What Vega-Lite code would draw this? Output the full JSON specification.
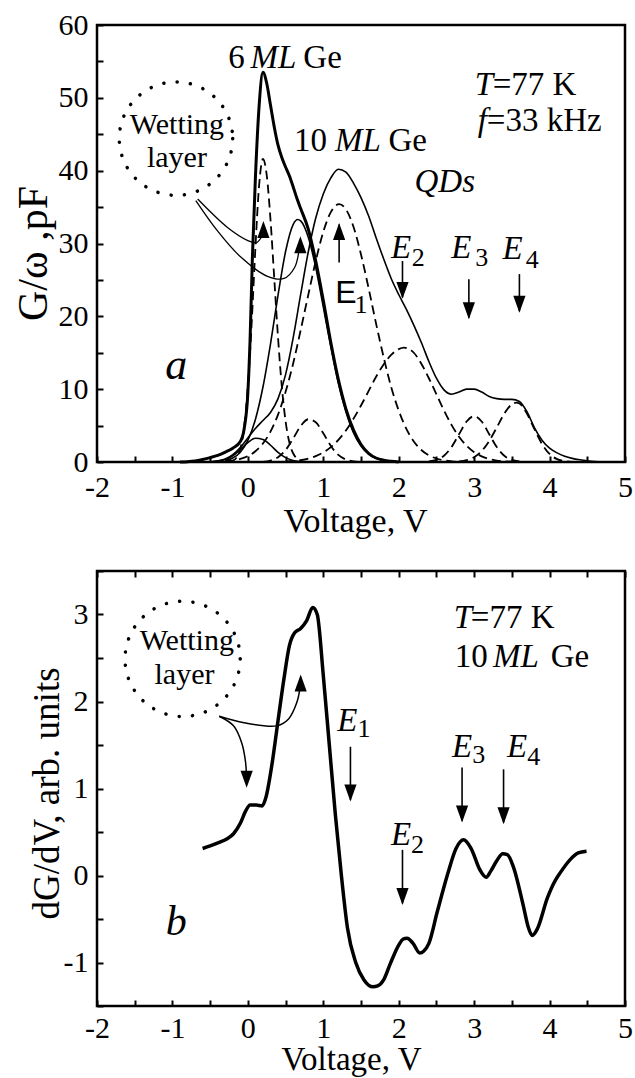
{
  "$schema": "https://vega.github.io/schema/vega-lite/v6.json",
  "padding": {"left": 10, "top": 8, "right": 0, "bottom": 0},
  "spacing": 14,
  "config": {
    "font": "Liberation Serif",
    "view": {"stroke": "black", "strokeWidth": 2.5},
    "axis": {
      "domain": false, "grid": false, "ticks": true,
      "tickColor": "black", "tickWidth": 2, "tickSize": -6,
      "labelFont": "Liberation Serif", "labelFontSize": 30, "labelColor": "black",
      "labelFlush": false, "labelOverlap": false,
      "titleFont": "Liberation Serif", "titleFontWeight": "normal", "titleColor": "black"
    }
  },
  "vconcat": [
    {
      "width": 528, "height": 437,
      "encoding": {
        "x": {"field": "x", "type": "quantitative",
              "scale": {"domain": [-2, 5], "nice": false, "zero": false},
              "axis": {"title": "Voltage, V", "values": [-2,-1.5,-1,-0.5,0,0.5,1,1.5,2,2.5,3,3.5,4,4.5,5],
                       "labelExpr": "datum.value % 1 === 0 ? toString(datum.value) : ''",
                       "labelPadding": 16, "titleFontSize": 34, "titleX": 258, "titleY": 59, "titleBaseline": "middle"}},
        "y": {"field": "y", "type": "quantitative",
              "scale": {"domain": [0, 60], "nice": false},
              "axis": {"title": "G/ω ,pF", "values": [0,5,10,15,20,25,30,35,40,45,50,55,60],
                       "labelExpr": "datum.value % 10 === 0 ? toString(datum.value) : ''",
                       "labelPadding": 15, "titleFontSize": 42, "titleAngle": -90, "titleX": -64, "titleY": 228,
                       "titleBaseline": "middle", "titleAlign": "center"}}
      },
      "layer": [
        {
          "data": {"values": [
            {"c": "A", "x": -0.25, "y": 0}, {"c": "A", "x": -0.2, "y": 0.16}, {"c": "A", "x": -0.15, "y": 0.6}, {"c": "A", "x": -0.1, "y": 1.8},
            {"c": "A", "x": -0.05, "y": 4.7}, {"c": "A", "x": 0, "y": 10.4}, {"c": "A", "x": 0.05, "y": 19}, {"c": "A", "x": 0.1, "y": 29.4},
            {"c": "A", "x": 0.15, "y": 38.1}, {"c": "A", "x": 0.2, "y": 41.6}, {"c": "A", "x": 0.25, "y": 39.4}, {"c": "A", "x": 0.3, "y": 33.3},
            {"c": "A", "x": 0.35, "y": 25.2}, {"c": "A", "x": 0.4, "y": 17.1}, {"c": "A", "x": 0.45, "y": 10.4}, {"c": "A", "x": 0.5, "y": 5.6},
            {"c": "A", "x": 0.55, "y": 2.7}, {"c": "A", "x": 0.6, "y": 1.2}, {"c": "A", "x": 0.7, "y": 0.16}, {"c": "A", "x": 0.8, "y": 0},
            {"c": "D", "x": 0.2, "y": 0}, {"c": "D", "x": 0.3, "y": 0.2}, {"c": "D", "x": 0.4, "y": 0.65}, {"c": "D", "x": 0.5, "y": 1.64},
            {"c": "D", "x": 0.6, "y": 3.22}, {"c": "D", "x": 0.7, "y": 4.93}, {"c": "D", "x": 0.8, "y": 5.87}, {"c": "D", "x": 0.9, "y": 5.45},
            {"c": "D", "x": 1.0, "y": 3.94}, {"c": "D", "x": 1.1, "y": 2.21}, {"c": "D", "x": 1.2, "y": 0.97}, {"c": "D", "x": 1.3, "y": 0.33},
            {"c": "D", "x": 1.4, "y": 0.09}, {"c": "D", "x": 1.5, "y": 0},
            {"c": "E1", "x": -0.3, "y": 0.1}, {"c": "E1", "x": -0.2, "y": 0.2}, {"c": "E1", "x": -0.1, "y": 0.42}, {"c": "E1", "x": 0, "y": 0.81},
            {"c": "E1", "x": 0.1, "y": 1.47}, {"c": "E1", "x": 0.2, "y": 2.54}, {"c": "E1", "x": 0.3, "y": 4.17}, {"c": "E1", "x": 0.4, "y": 6.5},
            {"c": "E1", "x": 0.5, "y": 9.63}, {"c": "E1", "x": 0.6, "y": 13.5}, {"c": "E1", "x": 0.7, "y": 18.1}, {"c": "E1", "x": 0.8, "y": 22.9},
            {"c": "E1", "x": 0.9, "y": 27.6}, {"c": "E1", "x": 1.0, "y": 31.6}, {"c": "E1", "x": 1.1, "y": 34.3}, {"c": "E1", "x": 1.21, "y": 35.4},
            {"c": "E1", "x": 1.3, "y": 34.7}, {"c": "E1", "x": 1.4, "y": 32.3}, {"c": "E1", "x": 1.5, "y": 28.5}, {"c": "E1", "x": 1.6, "y": 23.9},
            {"c": "E1", "x": 1.7, "y": 19.0}, {"c": "E1", "x": 1.8, "y": 14.4}, {"c": "E1", "x": 1.9, "y": 10.3}, {"c": "E1", "x": 2.0, "y": 7.06},
            {"c": "E1", "x": 2.1, "y": 4.58}, {"c": "E1", "x": 2.2, "y": 2.82}, {"c": "E1", "x": 2.3, "y": 1.65}, {"c": "E1", "x": 2.4, "y": 0.91},
            {"c": "E1", "x": 2.5, "y": 0.48}, {"c": "E1", "x": 2.6, "y": 0.24}, {"c": "E1", "x": 2.7, "y": 0.1}, {"c": "E1", "x": 2.8, "y": 0},
            {"c": "E2", "x": 0.5, "y": 0.07}, {"c": "E2", "x": 0.6, "y": 0.14}, {"c": "E2", "x": 0.7, "y": 0.27}, {"c": "E2", "x": 0.8, "y": 0.47},
            {"c": "E2", "x": 0.9, "y": 0.81}, {"c": "E2", "x": 1.0, "y": 1.31}, {"c": "E2", "x": 1.1, "y": 2.04}, {"c": "E2", "x": 1.2, "y": 3.04},
            {"c": "E2", "x": 1.3, "y": 4.33}, {"c": "E2", "x": 1.4, "y": 5.93}, {"c": "E2", "x": 1.5, "y": 7.76}, {"c": "E2", "x": 1.6, "y": 9.72},
            {"c": "E2", "x": 1.7, "y": 11.7}, {"c": "E2", "x": 1.8, "y": 13.4}, {"c": "E2", "x": 1.9, "y": 14.7}, {"c": "E2", "x": 2.0, "y": 15.5},
            {"c": "E2", "x": 2.07, "y": 15.7}, {"c": "E2", "x": 2.2, "y": 15.0}, {"c": "E2", "x": 2.3, "y": 13.5}, {"c": "E2", "x": 2.4, "y": 11.5},
            {"c": "E2", "x": 2.5, "y": 9.3}, {"c": "E2", "x": 2.6, "y": 7.08}, {"c": "E2", "x": 2.7, "y": 5.1}, {"c": "E2", "x": 2.8, "y": 3.47},
            {"c": "E2", "x": 2.9, "y": 2.23}, {"c": "E2", "x": 3.0, "y": 1.35}, {"c": "E2", "x": 3.1, "y": 0.78}, {"c": "E2", "x": 3.2, "y": 0.42},
            {"c": "E2", "x": 3.3, "y": 0.2}, {"c": "E2", "x": 3.4, "y": 0.1}, {"c": "E2", "x": 3.5, "y": 0.04},
            {"c": "E3", "x": 2.4, "y": 0.07}, {"c": "E3", "x": 2.5, "y": 0.28}, {"c": "E3", "x": 2.6, "y": 0.85}, {"c": "E3", "x": 2.7, "y": 2.05},
            {"c": "E3", "x": 2.8, "y": 3.82}, {"c": "E3", "x": 2.9, "y": 5.56}, {"c": "E3", "x": 3.0, "y": 6.3}, {"c": "E3", "x": 3.1, "y": 5.56},
            {"c": "E3", "x": 3.2, "y": 3.82}, {"c": "E3", "x": 3.3, "y": 2.05}, {"c": "E3", "x": 3.4, "y": 0.85}, {"c": "E3", "x": 3.5, "y": 0.28},
            {"c": "E3", "x": 3.6, "y": 0.07},
            {"c": "E4", "x": 2.8, "y": 0.08}, {"c": "E4", "x": 2.9, "y": 0.25}, {"c": "E4", "x": 3.0, "y": 0.66}, {"c": "E4", "x": 3.1, "y": 1.5},
            {"c": "E4", "x": 3.2, "y": 2.89}, {"c": "E4", "x": 3.3, "y": 4.74}, {"c": "E4", "x": 3.4, "y": 6.64}, {"c": "E4", "x": 3.5, "y": 7.92},
            {"c": "E4", "x": 3.56, "y": 8.15}, {"c": "E4", "x": 3.6, "y": 8.02}, {"c": "E4", "x": 3.7, "y": 6.66}, {"c": "E4", "x": 3.8, "y": 4.5},
            {"c": "E4", "x": 3.9, "y": 2.47}, {"c": "E4", "x": 4.0, "y": 1.1}, {"c": "E4", "x": 4.1, "y": 0.4}, {"c": "E4", "x": 4.2, "y": 0.13},
            {"c": "E4", "x": 4.3, "y": 0.03}
          ]},
          "mark": {"type": "line", "interpolate": "monotone", "color": "black", "strokeWidth": 1.8, "strokeDash": [9, 5]},
          "encoding": {"detail": {"field": "c"}}
        },
        {
          "data": {"values": [
            {"c": "B", "x": -0.3, "y": 0.2}, {"c": "B", "x": -0.2, "y": 0.55}, {"c": "B", "x": -0.1, "y": 1.35}, {"c": "B", "x": 0, "y": 2.96},
            {"c": "B", "x": 0.1, "y": 5.84}, {"c": "B", "x": 0.2, "y": 10.3}, {"c": "B", "x": 0.3, "y": 16.2}, {"c": "B", "x": 0.4, "y": 22.9},
            {"c": "B", "x": 0.5, "y": 28.9}, {"c": "B", "x": 0.6, "y": 32.6}, {"c": "B", "x": 0.66, "y": 33.3}, {"c": "B", "x": 0.7, "y": 33.1},
            {"c": "B", "x": 0.8, "y": 30.9}, {"c": "B", "x": 0.9, "y": 26.7}, {"c": "B", "x": 1.0, "y": 21.3}, {"c": "B", "x": 1.1, "y": 15.8},
            {"c": "B", "x": 1.2, "y": 10.8}, {"c": "B", "x": 1.3, "y": 6.9}, {"c": "B", "x": 1.4, "y": 4.03}, {"c": "B", "x": 1.5, "y": 2.19},
            {"c": "B", "x": 1.6, "y": 1.1}, {"c": "B", "x": 1.7, "y": 0.51}, {"c": "B", "x": 1.8, "y": 0.22}, {"c": "B", "x": 1.9, "y": 0.08},
            {"c": "B", "x": 2.0, "y": 0},
            {"c": "C", "x": -0.5, "y": 0.02}, {"c": "C", "x": -0.4, "y": 0.1}, {"c": "C", "x": -0.3, "y": 0.33}, {"c": "C", "x": -0.2, "y": 0.85},
            {"c": "C", "x": -0.1, "y": 1.7}, {"c": "C", "x": 0, "y": 2.67}, {"c": "C", "x": 0.1, "y": 3.26}, {"c": "C", "x": 0.2, "y": 3.1},
            {"c": "C", "x": 0.3, "y": 2.3}, {"c": "C", "x": 0.4, "y": 1.33}, {"c": "C", "x": 0.5, "y": 0.6}, {"c": "C", "x": 0.6, "y": 0.21},
            {"c": "C", "x": 0.7, "y": 0.06}, {"c": "C", "x": 0.8, "y": 0},
            {"c": "S2", "x": -0.5, "y": 0}, {"c": "S2", "x": -0.4, "y": 0.15}, {"c": "S2", "x": -0.3, "y": 0.4}, {"c": "S2", "x": -0.2, "y": 1.0},
            {"c": "S2", "x": -0.1, "y": 2.0}, {"c": "S2", "x": 0, "y": 3.3}, {"c": "S2", "x": 0.1, "y": 4.6}, {"c": "S2", "x": 0.2, "y": 5.7},
            {"c": "S2", "x": 0.3, "y": 6.8}, {"c": "S2", "x": 0.4, "y": 8.7}, {"c": "S2", "x": 0.5, "y": 12.0}, {"c": "S2", "x": 0.6, "y": 17.0},
            {"c": "S2", "x": 0.7, "y": 23.0}, {"c": "S2", "x": 0.8, "y": 28.8}, {"c": "S2", "x": 0.9, "y": 33.5}, {"c": "S2", "x": 1.0, "y": 36.8},
            {"c": "S2", "x": 1.1, "y": 39.0}, {"c": "S2", "x": 1.2, "y": 40.2}, {"c": "S2", "x": 1.3, "y": 39.8}, {"c": "S2", "x": 1.4, "y": 38.3},
            {"c": "S2", "x": 1.5, "y": 36.3}, {"c": "S2", "x": 1.6, "y": 33.8}, {"c": "S2", "x": 1.7, "y": 30.8}, {"c": "S2", "x": 1.8, "y": 27.9},
            {"c": "S2", "x": 1.9, "y": 25.2}, {"c": "S2", "x": 2.0, "y": 23.0}, {"c": "S2", "x": 2.1, "y": 21.0}, {"c": "S2", "x": 2.2, "y": 18.8},
            {"c": "S2", "x": 2.3, "y": 16.4}, {"c": "S2", "x": 2.4, "y": 13.8}, {"c": "S2", "x": 2.5, "y": 11.5}, {"c": "S2", "x": 2.6, "y": 9.9},
            {"c": "S2", "x": 2.7, "y": 9.3}, {"c": "S2", "x": 2.8, "y": 9.6}, {"c": "S2", "x": 2.9, "y": 10.0}, {"c": "S2", "x": 3.0, "y": 10.0},
            {"c": "S2", "x": 3.1, "y": 9.6}, {"c": "S2", "x": 3.2, "y": 9.0}, {"c": "S2", "x": 3.3, "y": 8.7}, {"c": "S2", "x": 3.4, "y": 8.6},
            {"c": "S2", "x": 3.5, "y": 8.6}, {"c": "S2", "x": 3.6, "y": 8.3}, {"c": "S2", "x": 3.7, "y": 6.9}, {"c": "S2", "x": 3.8, "y": 4.7},
            {"c": "S2", "x": 3.9, "y": 3.0}, {"c": "S2", "x": 4.0, "y": 1.9}, {"c": "S2", "x": 4.1, "y": 1.25}, {"c": "S2", "x": 4.2, "y": 0.8},
            {"c": "S2", "x": 4.3, "y": 0.5}, {"c": "S2", "x": 4.4, "y": 0.3}, {"c": "S2", "x": 4.5, "y": 0.15}, {"c": "S2", "x": 4.6, "y": 0.05},
            {"c": "S2", "x": 4.7, "y": 0}
          ]},
          "mark": {"type": "line", "interpolate": "monotone", "color": "black", "strokeWidth": 1.6},
          "encoding": {"detail": {"field": "c"}}
        },
        {
          "data": {"values": [
            {"x": -0.9, "y": 0}, {"x": -0.8, "y": 0.05}, {"x": -0.7, "y": 0.15}, {"x": -0.6, "y": 0.35}, {"x": -0.5, "y": 0.6},
            {"x": -0.4, "y": 0.9}, {"x": -0.3, "y": 1.35}, {"x": -0.2, "y": 1.9}, {"x": -0.1, "y": 2.8}, {"x": -0.05, "y": 4.5},
            {"x": 0, "y": 9.5}, {"x": 0.03, "y": 17}, {"x": 0.06, "y": 28}, {"x": 0.1, "y": 39}, {"x": 0.15, "y": 49},
            {"x": 0.2, "y": 53.5}, {"x": 0.25, "y": 52}, {"x": 0.3, "y": 49}, {"x": 0.35, "y": 46}, {"x": 0.4, "y": 43.5},
            {"x": 0.45, "y": 41.8}, {"x": 0.5, "y": 40.5}, {"x": 0.55, "y": 39.3}, {"x": 0.6, "y": 37.8}, {"x": 0.65, "y": 36.2},
            {"x": 0.7, "y": 34.8}, {"x": 0.8, "y": 32}, {"x": 0.9, "y": 27.6}, {"x": 1.0, "y": 22.2}, {"x": 1.1, "y": 16.4},
            {"x": 1.2, "y": 11.3}, {"x": 1.3, "y": 7.3}, {"x": 1.4, "y": 4.4}, {"x": 1.5, "y": 2.4}, {"x": 1.6, "y": 1.2},
            {"x": 1.7, "y": 0.55}, {"x": 1.8, "y": 0.25}, {"x": 1.9, "y": 0.1}, {"x": 2.0, "y": 0}
          ]},
          "mark": {"type": "line", "interpolate": "monotone", "color": "black", "strokeWidth": 3}
        },
        {
          "data": {"values": [
            {"c": "w1", "o": 0, "x": -0.665, "y": 36.1}, {"c": "w1", "o": 1, "x": -0.27, "y": 32.2}, {"c": "w1", "o": 2, "x": 0.0, "y": 30.4},
            {"c": "w1", "o": 3, "x": 0.11, "y": 30.1}, {"c": "w1", "o": 4, "x": 0.2, "y": 31.2},
            {"c": "w2", "o": 0, "x": -0.69, "y": 35.9}, {"c": "w2", "o": 1, "x": -0.4, "y": 31.7}, {"c": "w2", "o": 2, "x": -0.09, "y": 28.1},
            {"c": "w2", "o": 3, "x": 0.26, "y": 25.5}, {"c": "w2", "o": 4, "x": 0.48, "y": 25.2}, {"c": "w2", "o": 5, "x": 0.62, "y": 26.7},
            {"c": "w2", "o": 6, "x": 0.68, "y": 29.2}
          ]},
          "mark": {"type": "line", "interpolate": "catmull-rom", "color": "black", "strokeWidth": 1.3},
          "encoding": {"detail": {"field": "c"}, "order": {"field": "o", "type": "quantitative"}}
        },
        {
          "data": {"values": [
            {"x": 1.21, "y": 27.4, "y2": 32.6}, {"x": 2.05, "y": 27.6, "y2": 22.6},
            {"x": 2.93, "y": 25.1, "y2": 19.8}, {"x": 3.6, "y": 25.8, "y2": 20.7}
          ]},
          "mark": {"type": "rule", "color": "black", "strokeWidth": 1.6},
          "encoding": {"y2": {"field": "y2"}}
        },
        {
          "data": {"values": [{"x": 1.21, "y": 32.8}, {"x": 0.206, "y": 33.1}, {"x": 0.696, "y": 31.0}]},
          "mark": {"type": "point", "shape": "M0,0L-0.36,1L0.36,1Z", "filled": true, "size": 1150, "color": "black", "opacity": 1}
        },
        {
          "data": {"values": [{"x": 2.05, "y": 22.4}, {"x": 2.93, "y": 19.6}, {"x": 3.6, "y": 20.5}]},
          "mark": {"type": "point", "shape": "M0,0L-0.36,-1L0.36,-1Z", "filled": true, "size": 1150, "color": "black", "opacity": 1}
        },
        {
          "data": {"values": [{"x": -0.953, "y": 44.4}]},
          "mark": {"type": "point", "shape": "circle", "filled": false, "size": 12868, "color": "black", "opacity": 1,
                   "strokeWidth": 3.5, "strokeDash": [0.1, 13.3], "strokeCap": "round"}
        },
        {
          "data": {"values": [
            {"x": -0.94, "y": 46.3, "t": "Wetting"}, {"x": -0.94, "y": 41.7, "t": "layer"}
          ]},
          "mark": {"type": "text", "font": "Liberation Serif", "fontSize": 30, "align": "center", "baseline": "middle", "color": "black"},
          "encoding": {"text": {"field": "t"}}
        },
        {
          "data": {"values": [
            {"x": -0.15, "y": 55.5, "t": "6"}, {"x": 0.99, "y": 55.5, "t": "Ge"},
            {"x": 0.83, "y": 44.1, "t": "10"}, {"x": 2.12, "y": 44.1, "t": "Ge"},
            {"x": 3.8, "y": 51.7, "t": "=77 K"}, {"x": 3.93, "y": 46.8, "t": "=33 kHz"}
          ]},
          "mark": {"type": "text", "font": "Liberation Serif", "fontSize": 33, "align": "center", "baseline": "middle", "color": "black"},
          "encoding": {"text": {"field": "t"}}
        },
        {
          "data": {"values": [
            {"x": 0.34, "y": 55.5, "t": "ML"}, {"x": 1.46, "y": 44.1, "t": "ML"},
            {"x": 3.13, "y": 51.7, "t": "T"}, {"x": 3.11, "y": 46.8, "t": "f"},
            {"x": 2.61, "y": 38.4, "t": "QDs"},
            {"x": 2.03, "y": 29.4, "t": "E"}, {"x": 2.83, "y": 29.4, "t": "E"}, {"x": 3.51, "y": 29.2, "t": "E"}
          ]},
          "mark": {"type": "text", "font": "Liberation Serif", "fontStyle": "italic", "fontSize": 33, "align": "center", "baseline": "middle", "color": "black"},
          "encoding": {"text": {"field": "t"}}
        },
        {
          "data": {"values": [{"x": 1.3, "y": 23.2, "t": "E"}]},
          "mark": {"type": "text", "font": "Liberation Sans", "fontSize": 32, "align": "center", "baseline": "middle", "color": "black"},
          "encoding": {"text": {"field": "t"}}
        },
        {
          "data": {"values": [
            {"x": 1.5, "y": 21.5, "t": "1"}, {"x": 2.26, "y": 28.0, "t": "2"},
            {"x": 3.1, "y": 28.0, "t": "3"}, {"x": 3.77, "y": 27.8, "t": "4"}
          ]},
          "mark": {"type": "text", "font": "Liberation Serif", "fontSize": 26, "align": "center", "baseline": "middle", "color": "black"},
          "encoding": {"text": {"field": "t"}}
        },
        {
          "data": {"values": [{"x": -0.95, "y": 13.2, "t": "a"}]},
          "mark": {"type": "text", "font": "Liberation Serif", "fontStyle": "italic", "fontSize": 44, "align": "center", "baseline": "middle", "color": "black"},
          "encoding": {"text": {"field": "t"}}
        }
      ]
    },
    {
      "width": 528, "height": 435,
      "layer": [
        {
          "encoding": {
            "x": {"field": "x", "type": "quantitative",
                  "scale": {"domain": [-2, 5], "nice": false, "zero": false},
                  "axis": {"title": "Voltage, V", "values": [-2,-1.5,-1,-0.5,0,0.5,1,1.5,2,2.5,3,3.5,4,4.5,5],
                           "labelExpr": "datum.value % 1 === 0 ? toString(datum.value) : ''",
                           "labelPadding": 13, "titleFontSize": 33, "titleX": 254, "titleY": 53, "titleBaseline": "middle"}},
            "y": {"field": "y", "type": "quantitative",
                  "scale": {"domain": [-1.5, 3.5], "nice": false, "zero": false},
                  "axis": {"title": "dG/dV, arb. units", "values": [-1.5,-1,-0.5,0,0.5,1,1.5,2,2.5,3,3.5],
                           "labelExpr": "datum.value % 1 === 0 ? toString(datum.value) : ''",
                           "labelPadding": 15, "titleFontSize": 37, "titleAngle": -90, "titleX": -50, "titleY": 222,
                           "titleBaseline": "middle", "titleAlign": "center"}}
          },
          "layer": [
            {
              "data": {"values": [
                {"x": -0.6, "y": 0.31}, {"x": -0.5, "y": 0.34}, {"x": -0.38, "y": 0.38}, {"x": -0.28, "y": 0.42},
                {"x": -0.19, "y": 0.48}, {"x": -0.1, "y": 0.6}, {"x": -0.03, "y": 0.74}, {"x": 0.03, "y": 0.81},
                {"x": 0.11, "y": 0.81}, {"x": 0.19, "y": 0.8}, {"x": 0.24, "y": 0.9}, {"x": 0.32, "y": 1.28},
                {"x": 0.4, "y": 1.78}, {"x": 0.48, "y": 2.27}, {"x": 0.55, "y": 2.64}, {"x": 0.62, "y": 2.79},
                {"x": 0.7, "y": 2.84}, {"x": 0.78, "y": 2.93}, {"x": 0.86, "y": 3.08}, {"x": 0.92, "y": 3.0},
                {"x": 1.0, "y": 2.3}, {"x": 1.08, "y": 1.5}, {"x": 1.16, "y": 0.7}, {"x": 1.24, "y": 0.0},
                {"x": 1.32, "y": -0.6}, {"x": 1.43, "y": -1.0}, {"x": 1.54, "y": -1.2}, {"x": 1.66, "y": -1.28},
                {"x": 1.72, "y": -1.27}, {"x": 1.8, "y": -1.2}, {"x": 1.89, "y": -1.01}, {"x": 2.0, "y": -0.8},
                {"x": 2.06, "y": -0.73}, {"x": 2.11, "y": -0.72}, {"x": 2.19, "y": -0.78}, {"x": 2.28, "y": -0.89},
                {"x": 2.33, "y": -0.87}, {"x": 2.4, "y": -0.78}, {"x": 2.51, "y": -0.42}, {"x": 2.65, "y": 0.02},
                {"x": 2.76, "y": 0.31}, {"x": 2.86, "y": 0.41}, {"x": 2.96, "y": 0.31}, {"x": 3.08, "y": 0.06},
                {"x": 3.16, "y": -0.02}, {"x": 3.22, "y": 0.05}, {"x": 3.3, "y": 0.17}, {"x": 3.38, "y": 0.25},
                {"x": 3.44, "y": 0.24}, {"x": 3.52, "y": 0.1}, {"x": 3.65, "y": -0.34}, {"x": 3.72, "y": -0.6},
                {"x": 3.77, "y": -0.69}, {"x": 3.84, "y": -0.61}, {"x": 3.97, "y": -0.26}, {"x": 4.08, "y": -0.05},
                {"x": 4.14, "y": 0.03}, {"x": 4.27, "y": 0.18}, {"x": 4.38, "y": 0.26}, {"x": 4.49, "y": 0.28}
              ]},
              "mark": {"type": "line", "interpolate": "monotone", "color": "black", "strokeWidth": 3.5}
            },
            {
              "data": {"values": [
                {"c": "wa", "o": 0, "x": -0.38, "y": 1.83}, {"c": "wa", "o": 1, "x": -0.19, "y": 1.72}, {"c": "wa", "o": 2, "x": -0.08, "y": 1.52},
                {"c": "wa", "o": 3, "x": -0.03, "y": 1.3}, {"c": "wa", "o": 4, "x": -0.02, "y": 1.16},
                {"c": "wb", "o": 0, "x": -0.38, "y": 1.83}, {"c": "wb", "o": 1, "x": -0.05, "y": 1.756}, {"c": "wb", "o": 2, "x": 0.38, "y": 1.72},
                {"c": "wb", "o": 3, "x": 0.54, "y": 1.8}, {"c": "wb", "o": 4, "x": 0.65, "y": 1.99}, {"c": "wb", "o": 5, "x": 0.69, "y": 2.15}
              ]},
              "mark": {"type": "line", "interpolate": "catmull-rom", "color": "black", "strokeWidth": 1.5},
              "encoding": {"detail": {"field": "c"}, "order": {"field": "o", "type": "quantitative"}}
            },
            {
              "data": {"values": [
                {"x": 1.36, "y": 1.48, "y2": 0.87}, {"x": 2.05, "y": 0.295, "y2": -0.32},
                {"x": 2.84, "y": 1.24, "y2": 0.63}, {"x": 3.39, "y": 1.22, "y2": 0.61}
              ]},
              "mark": {"type": "rule", "color": "black", "strokeWidth": 1.6},
              "encoding": {"y2": {"field": "y2"}}
            },
            {
              "data": {"values": [{"x": 0.7, "y": 2.31}]},
              "mark": {"type": "point", "shape": "M0,0L-0.36,1L0.36,1Z", "filled": true, "size": 1150, "color": "black", "opacity": 1}
            },
            {
              "data": {"values": [{"x": -0.016, "y": 1.01}, {"x": 1.36, "y": 0.85}, {"x": 2.05, "y": -0.34}, {"x": 2.84, "y": 0.61}, {"x": 3.39, "y": 0.59}]},
              "mark": {"type": "point", "shape": "M0,0L-0.36,-1L0.36,-1Z", "filled": true, "size": 1150, "color": "black", "opacity": 1}
            },
            {
              "data": {"values": [{"x": -0.865, "y": 2.49}]},
              "mark": {"type": "point", "shape": "circle", "filled": false, "size": 13273, "color": "black", "opacity": 1,
                       "strokeWidth": 3.5, "strokeDash": [0.1, 13.3], "strokeCap": "round"}
            },
            {
              "data": {"values": [
                {"x": -0.81, "y": 2.7, "t": "Wetting"}, {"x": -0.84, "y": 2.31, "t": "layer"}
              ]},
              "mark": {"type": "text", "font": "Liberation Serif", "fontSize": 30, "align": "center", "baseline": "middle", "color": "black"},
              "encoding": {"text": {"field": "t"}}
            },
            {
              "data": {"values": [
                {"x": 3.51, "y": 2.96, "t": "=77 K"}, {"x": 2.96, "y": 2.51, "t": "10"}, {"x": 4.27, "y": 2.51, "t": "Ge"}
              ]},
              "mark": {"type": "text", "font": "Liberation Serif", "fontSize": 33, "align": "center", "baseline": "middle", "color": "black"},
              "encoding": {"text": {"field": "t"}}
            },
            {
              "data": {"values": [
                {"x": 2.85, "y": 2.96, "t": "T"}, {"x": 3.555, "y": 2.51, "t": "ML"},
                {"x": 1.32, "y": 1.78, "t": "E"}, {"x": 2.03, "y": 0.47, "t": "E"},
                {"x": 2.84, "y": 1.48, "t": "E"}, {"x": 3.57, "y": 1.48, "t": "E"}
              ]},
              "mark": {"type": "text", "font": "Liberation Serif", "fontStyle": "italic", "fontSize": 33, "align": "center", "baseline": "middle", "color": "black"},
              "encoding": {"text": {"field": "t"}}
            },
            {
              "data": {"values": [
                {"x": 1.54, "y": 1.68, "t": "1"}, {"x": 2.25, "y": 0.35, "t": "2"},
                {"x": 3.06, "y": 1.38, "t": "3"}, {"x": 3.79, "y": 1.36, "t": "4"}
              ]},
              "mark": {"type": "text", "font": "Liberation Serif", "fontSize": 26, "align": "center", "baseline": "middle", "color": "black"},
              "encoding": {"text": {"field": "t"}}
            },
            {
              "data": {"values": [{"x": -0.95, "y": -0.53, "t": "b"}]},
              "mark": {"type": "text", "font": "Liberation Serif", "fontStyle": "italic", "fontSize": 42, "align": "center", "baseline": "middle", "color": "black"},
              "encoding": {"text": {"field": "t"}}
            }
          ]
        },
        {
          "data": {"values": [{"x": 0}]},
          "mark": {"type": "point", "opacity": 0},
          "encoding": {
            "x": {"field": "x", "type": "quantitative",
                  "scale": {"domain": [-2, 5], "nice": false, "zero": false},
                  "axis": {"orient": "top", "labels": false, "title": null,
                           "values": [-2,-1.5,-1,-0.5,0,0.5,1,1.5,2,2.5,3,3.5,4,4.5,5]}}
          }
        }
      ],
      "resolve": {"axis": {"x": "independent"}}
    }
  ]
}
